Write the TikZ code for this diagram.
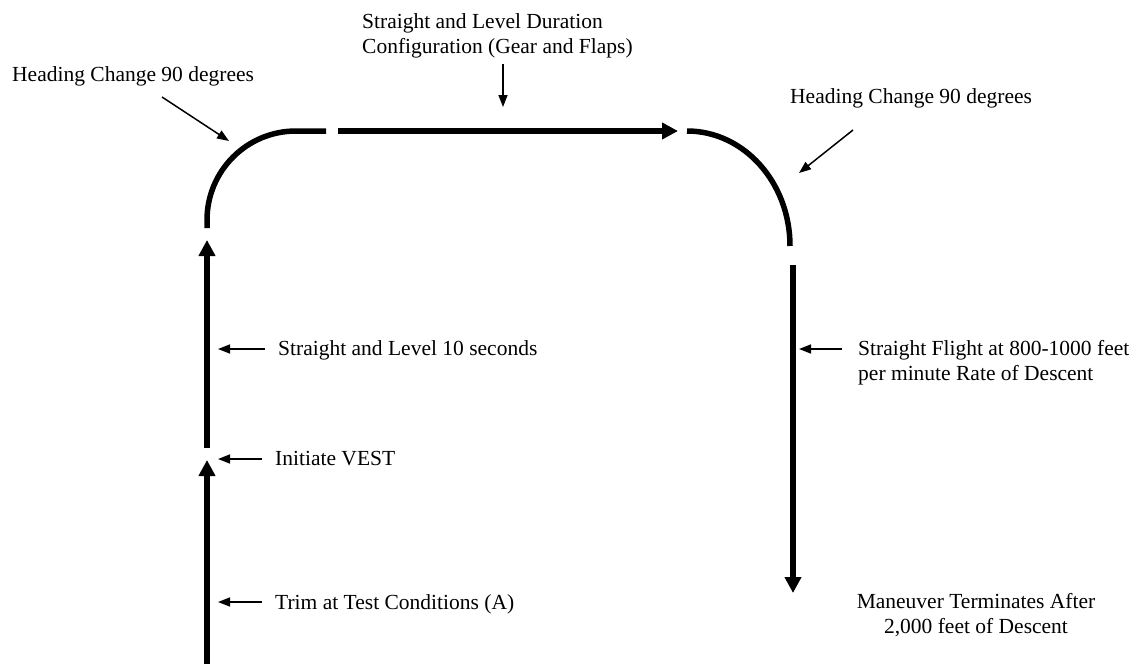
\documentclass[tikz,border=0pt]{standalone}
\usepackage{fontspec}
\setmainfont{Liberation Serif}
\usetikzlibrary{arrows.meta}
\begin{document}
\begin{tikzpicture}[x=1pt,y=-1pt,
  lbl/.style={inner sep=0pt, font=\fontsize{21.5}{25}\selectfont, align=left},
  track/.style={line width=5.5pt, line cap=butt},
  bigarrow/.style={track, -{Triangle[width=16pt,length=16pt]}},
  ptr/.style={line width=1.5pt, -{Triangle[width=9pt,length=12pt]}}]
\useasboundingbox (0,0) rectangle (1143,664);

% track coordinates
\coordinate (b0) at (207,664);
\coordinate (b1) at (207,460);
\coordinate (s0) at (207,448);
\coordinate (s1) at (207,240);
\coordinate (a0) at (207,228);
\coordinate (a1) at (207,220);
\coordinate (a2) at (296,131);
\coordinate (a3) at (326,131);
\coordinate (t0) at (338,131);
\coordinate (t1) at (678,131);
\coordinate (r0) at (687,131);
\coordinate (r1) at (790,246);
\coordinate (d0) at (793,265);
\coordinate (d1) at (793,593);

\draw[bigarrow] (b0) -- (b1);
\draw[bigarrow] (s0) -- (s1);
\draw[track] (a0) -- (a1) .. controls (207,170.8) and (246.8,131) .. (a2) -- (a3);
\draw[bigarrow] (t0) -- (t1);
\draw[track] (r0) .. controls (743.9,131) and (790,182.5) .. (r1);
\draw[bigarrow] (d0) -- (d1);

% labels (base anchor of a two-line node is its last line)
\node[lbl, anchor=base west] (head1) at (12,81) {Heading Change 90 degrees};
\node[lbl, anchor=base west] (topl) at (362,53) {Straight and Level Duration\\Configuration (Gear and Flaps)};
\node[lbl, anchor=base west] (head2) at (790,103) {Heading Change 90 degrees};
\node[lbl, anchor=base west] (sl10) at (278,355) {Straight and Level 10 seconds};
\node[lbl, anchor=base west] (vest) at (275,465) {Initiate VEST};
\node[lbl, anchor=base west] (trim) at (275,609) {Trim at Test Conditions (A)};
\node[lbl, anchor=base west] (sf) at (858,380) {Straight Flight at 800-1000 feet\\per minute Rate of Descent};
\node[lbl, anchor=base, align=center] (man) at (976,633) {Maneuver Terminates After\\2,000 feet of Descent};

% pointer coordinates
\coordinate (p1s) at (162,97);  \coordinate (p1e) at (229,141);
\coordinate (p2s) at (853,130); \coordinate (p2e) at (799,173);
\coordinate (p3s) at (503,64);  \coordinate (p3e) at (503,107);
\coordinate (p4s) at (265,349); \coordinate (p4e) at (218,349);
\coordinate (p5s) at (262,459); \coordinate (p5e) at (218,459);
\coordinate (p6s) at (262,602); \coordinate (p6e) at (218,602);
\coordinate (p7s) at (842,349); \coordinate (p7e) at (799,349);

\draw[ptr] (p1s) -- (p1e);
\draw[ptr] (p2s) -- (p2e);
\draw[ptr] (p3s) -- (p3e);
\draw[ptr] (p4s) -- (p4e);
\draw[ptr] (p5s) -- (p5e);
\draw[ptr] (p6s) -- (p6e);
\draw[ptr] (p7s) -- (p7e);
\end{tikzpicture}
\end{document}
